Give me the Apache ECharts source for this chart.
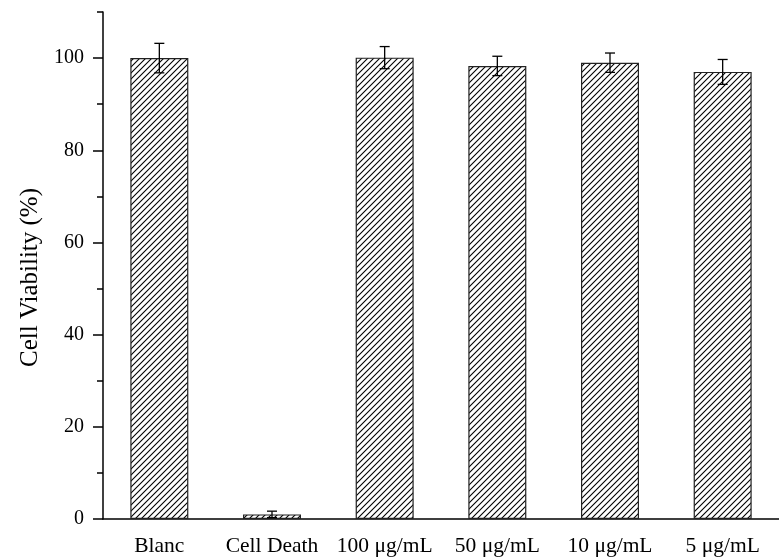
<!DOCTYPE html>
<html>
<head>
<meta charset="utf-8">
<script src="https://cdn.jsdelivr.net/npm/echarts@6/dist/echarts.min.js"></script>
<style>
html, body { margin: 0; padding: 0; background: #fff; }
#myChart { width: 779px; height: 559px; }
</style>
</head>
<body>
<div id="myChart"></div>
<script>
// data
var categories = ['Blanc', 'Cell Death', '100 μg/mL', '50 μg/mL', '10 μg/mL', '5 μg/mL']
var viability = [100, 1.0, 100.1, 98.3, 99.0, 97.0]
var errors = [3.2, 0.7, 2.4, 2.1, 2.1, 2.7]
var majorTicks = [0, 20, 40, 60, 80, 100]
var minorTicks = [10, 30, 50, 70, 90, 110]

var font = 'Liberation Serif'

// hatch pattern ////
function makeHatch () {
  var s = 6
  var c = document.createElement('canvas')
  c.width = s
  c.height = s
  var ctx = c.getContext('2d')
  ctx.fillStyle = '#fff'
  ctx.fillRect(0, 0, s, s)
  ctx.strokeStyle = '#000'
  ctx.lineWidth = 1.1
  ctx.beginPath()
  ctx.moveTo(-1, s + 1); ctx.lineTo(s + 1, -1)
  ctx.moveTo(-1, 1); ctx.lineTo(1, -1)
  ctx.moveTo(s - 1, s + 1); ctx.lineTo(s + 1, s - 1)
  ctx.stroke()
  return c
}

var errData = viability.map(function (v, i) {
  return [i, v - errors[i], v + errors[i]]
})

var myChart = echarts.init(document.getElementById('myChart'))
myChart.setOption({
  animation: false,
  backgroundColor: '#fff',
  grid: { left: 103, right: -11, top: 12, bottom: 40, containLabel: false },
  xAxis: {
    type: 'category',
    data: categories,
    axisLine: { lineStyle: { color: '#000', width: 1.5 } },
    axisTick: { alignWithLabel: true, length: 8, lineStyle: { color: '#000', width: 1.5 } },
    axisLabel: { interval: 0, color: '#000', fontFamily: font, fontSize: 21.5, margin: 16 }
  },
  yAxis: [
    {
      type: 'value',
      min: 0,
      max: 110,
      name: 'Cell Viability (%)',
      nameLocation: 'middle',
      nameGap: 60,
      nameTextStyle: { color: '#000', fontFamily: font, fontSize: 25, padding: [0, 24, 0, 0] },
      axisLine: { show: true, lineStyle: { color: '#000', width: 1.5 } },
      axisTick: { show: true, length: 10, customValues: majorTicks, lineStyle: { color: '#000', width: 1.5 } },
      axisLabel: { customValues: majorTicks, color: '#000', fontFamily: font, fontSize: 20, margin: 19 },
      splitLine: { show: false }
    },
    {
      type: 'value',
      position: 'left',
      min: 0,
      max: 110,
      axisLine: { show: false },
      axisTick: { show: true, length: 6, customValues: minorTicks, lineStyle: { color: '#000', width: 1.5 } },
      axisLabel: { show: false },
      splitLine: { show: false }
    }
  ],
  series: [
    {
      type: 'bar',
      data: viability,
      barWidth: 58,
      itemStyle: {
        color: { image: makeHatch(), repeat: 'repeat' },
        borderColor: '#222',
        borderWidth: 1.2
      }
    },
    {
      type: 'custom',
      data: errData,
      encode: { x: 0, y: [1, 2] },
      z: 10,
      renderItem: function (params, api) {
        var lo = api.coord([api.value(0), api.value(1)])
        var hi = api.coord([api.value(0), api.value(2)])
        var w = 5
        var st = { stroke: '#000', lineWidth: 1.3 }
        return {
          type: 'group',
          children: [
            { type: 'line', shape: { x1: hi[0], y1: hi[1], x2: lo[0], y2: lo[1] }, style: st },
            { type: 'line', shape: { x1: hi[0] - w, y1: hi[1], x2: hi[0] + w, y2: hi[1] }, style: st },
            { type: 'line', shape: { x1: lo[0] - w, y1: lo[1], x2: lo[0] + w, y2: lo[1] }, style: st }
          ]
        }
      }
    }
  ]
})
</script>
</body>
</html>
